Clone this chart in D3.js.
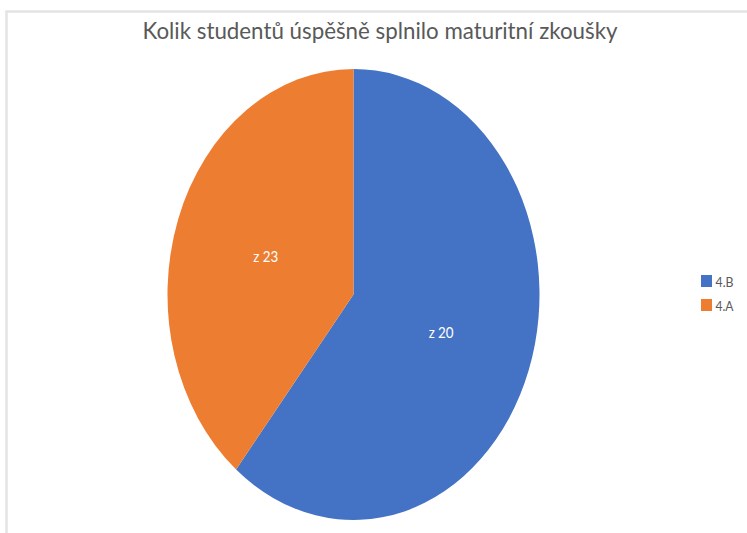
<!DOCTYPE html>
<html>
<head>
<meta charset="utf-8">
<script src="https://cdn.jsdelivr.net/npm/d3@7"></script>
<style>
  body { margin: 0; background: #fff; }
  svg { display: block; }
</style>
</head>
<body>
<svg id="contenedor"></svg>
<script>
// data
let tridy = ["4.B", "4.A"];        // categories (legend)
let uspesni = [14, 9];             // students who passed (slice sizes)
let popisky = ["z 20", "z 23"];    // data labels ("out of")
let titulek = "Kolik studentů úspěšně splnilo maturitní zkoušky";

// area config
function getConfig() {
  let width = 747;
  let height = 533;
  // the pie is an ellipse in the picture
  let pie = { cx: 353.5, cy: 294.5, rx: 186, ry: 225.5 };
  let container = d3.select("#contenedor")
    .attr("width", width)
    .attr("height", height);
  return { width, height, pie, container };
} // end getConfig

// colour scale
function getScales() {
  let color = d3.scaleOrdinal().domain(tridy).range(["#4472C4", "#ED7D31"]);
  return { color };
} // end getScales

// frame + title
function drawFrame(config) {
  let { width, height, container } = config;
  container.append("rect")
    .attr("x", 6.5).attr("y", 11.5)
    .attr("width", width).attr("height", height)
    .attr("fill", "none")
    .attr("stroke", "#e4e4e4")
    .attr("stroke-width", 2.5);

  container.append("text")
    .attr("x", 380).attr("y", 38.5)
    .attr("text-anchor", "middle")
    .attr("font-family", "Lato, 'Open Sans', sans-serif")
    .attr("font-size", 23)
    .attr("fill", "#595959")
    .attr("textLength", 475)
    .attr("lengthAdjust", "spacingAndGlyphs")
    .text(titulek);
} // end drawFrame

// slices and labels
function drawPie(data, scales, config) {
  let { container, pie } = config;
  let { color } = scales;

  let layout = d3.pie().sort(null).value((d) => d.value)(data);
  let arc = d3.arc().innerRadius(0).outerRadius(pie.ry);

  let body = container.append("g")
    .attr("transform", `translate(${pie.cx},${pie.cy}) scale(${pie.rx / pie.ry},1)`);

  body.selectAll("path")
    .data(layout)
    .enter()
    .append("path")
    .attr("d", arc)
    .attr("fill", (d) => color(d.data.name));

  // labels placed at the centroid (text itself not stretched)
  container.selectAll(".popisek")
    .data(layout)
    .enter()
    .append("text")
    .attr("class", "popisek")
    .attr("x", (d) => pie.cx + arc.centroid(d)[0] * pie.rx / pie.ry)
    .attr("y", (d) => pie.cy + arc.centroid(d)[1])
    .attr("dy", "0.35em")
    .attr("text-anchor", "middle")
    .attr("font-family", "Lato, 'Open Sans', sans-serif")
    .attr("font-size", 15)
    .attr("fill", "#ffffff")
    .attr("textLength", 25)
    .attr("lengthAdjust", "spacingAndGlyphs")
    .text((d) => d.data.label);
} // end drawPie

// legend on the right
function drawLegend(scales, config) {
  let { container } = config;
  let { color } = scales;
  let y = d3.scaleBand().domain(tridy).range([275, 323]).paddingInner(0);

  let items = container.append("g").selectAll("g")
    .data(tridy)
    .enter()
    .append("g")
    .attr("transform", (d) => `translate(701,${y(d)})`);

  items.append("rect")
    .attr("width", 11).attr("height", 12)
    .attr("fill", (d) => color(d));

  items.append("text")
    .attr("x", 14.5).attr("y", 7)
    .attr("dy", "0.35em")
    .attr("font-family", "Lato, 'Open Sans', sans-serif")
    .attr("font-size", 14)
    .attr("fill", "#595959")
    .attr("textLength", 18)
    .attr("lengthAdjust", "spacingAndGlyphs")
    .text((d) => d);
} // end drawLegend

function drawChart() {
  let data = tridy.map((t, i) => ({ name: t, value: uspesni[i], label: popisky[i] }));
  let config = getConfig();
  let scales = getScales();
  drawFrame(config);
  drawPie(data, scales, config);
  drawLegend(scales, config);
} // end drawChart

drawChart();
</script>
</body>
</html>
